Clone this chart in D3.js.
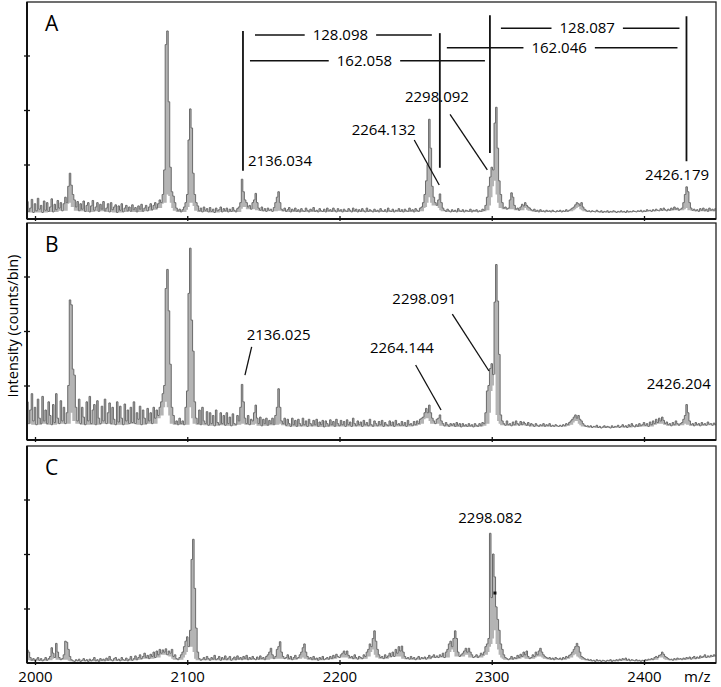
<!DOCTYPE html>
<html>
<head>
<meta charset="utf-8">
<script src="https://cdn.jsdelivr.net/npm/d3@7"></script>
<style>
body { margin: 0; background: #fff; }
svg { display: block; font-family: "Open Sans", sans-serif; }
</style>
</head>
<body>
<div id="viz"></div>
<script>
// counts per 1 m/z bin, first bin centred on m/z 1995
var binStart = 1995;

var countsA = [
  0.32,0.14,0.2,0.36,0.12,0.28,0.15,0.38,0.18,0.25,
  0.12,0.33,0.16,0.3,0.14,0.22,0.37,0.13,0.27,0.17,
  0.34,0.2,0.3,0.15,0.28,0.4,0.3,0.6,0.84,0.62,
  0.45,0.35,0.22,0.32,0.15,0.28,0.18,0.33,0.14,0.25,
  0.3,0.13,0.24,0.34,0.16,0.22,0.3,0.14,0.27,0.18,
  0.32,0.15,0.2,0.28,0.13,0.3,0.17,0.22,0.26,0.12,
  0.24,0.16,0.28,0.13,0.2,0.25,0.15,0.22,0.14,0.26,
  0.17,0.21,0.13,0.24,0.18,0.27,0.14,0.2,0.25,0.15,
  0.22,0.28,0.17,0.25,0.3,0.2,0.28,0.35,0.3,0.45,
  0.9,3.2,3.45,2.15,0.95,0.5,0.42,0.3,0.2,0.15,
  0.18,0.13,0.17,0.22,0.3,0.45,1.45,2.02,1.67,0.84,
  0.45,0.3,0.24,0.15,0.2,0.13,0.22,0.16,0.19,0.13,
  0.21,0.14,0.18,0.12,0.2,0.15,0.17,0.22,0.13,0.19,
  0.15,0.2,0.13,0.18,0.14,0.21,0.16,0.13,0.19,0.22,
  0.3,0.73,0.5,0.35,0.3,0.22,0.25,0.18,0.3,0.35,
  0.47,0.3,0.2,0.16,0.22,0.15,0.19,0.14,0.2,0.16,
  0.18,0.14,0.21,0.3,0.4,0.5,0.3,0.18,0.15,0.2,
  0.14,0.17,0.21,0.13,0.18,0.15,0.2,0.14,0.17,0.13,
  0.19,0.15,0.14,0.2,0.16,0.13,0.18,0.15,0.21,0.14,
  0.16,0.13,0.19,0.15,0.14,0.18,0.13,0.2,0.15,0.17,
  0.14,0.2,0.16,0.13,0.19,0.15,0.17,0.13,0.18,0.15,
  0.14,0.19,0.16,0.13,0.2,0.15,0.18,0.13,0.17,0.14,
  0.19,0.15,0.13,0.2,0.14,0.17,0.15,0.13,0.18,0.14,
  0.16,0.13,0.19,0.15,0.14,0.17,0.13,0.2,0.15,0.14,
  0.18,0.13,0.16,0.15,0.19,0.14,0.17,0.13,0.18,0.15,
  0.14,0.2,0.15,0.17,0.13,0.19,0.16,0.14,0.2,0.22,
  0.3,0.45,0.7,1.0,1.83,1.3,0.6,0.4,0.3,0.25,
  0.35,0.46,0.3,0.2,0.16,0.14,0.18,0.15,0.13,0.17,
  0.14,0.16,0.13,0.19,0.15,0.14,0.17,0.13,0.16,0.15,
  0.14,0.18,0.13,0.16,0.15,0.17,0.13,0.15,0.14,0.18,
  0.16,0.25,0.4,0.6,0.77,0.95,0.9,1.76,2.05,1.3,
  0.7,0.45,0.3,0.2,0.22,0.18,0.2,0.35,0.48,0.4,
  0.25,0.18,0.2,0.16,0.22,0.27,0.24,0.3,0.25,0.22,
  0.2,0.17,0.15,0.18,0.14,0.16,0.13,0.17,0.14,0.15,
  0.13,0.16,0.14,0.15,0.13,0.16,0.14,0.13,0.15,0.14,
  0.16,0.13,0.15,0.14,0.17,0.14,0.16,0.18,0.2,0.22,
  0.26,0.3,0.28,0.25,0.3,0.22,0.18,0.16,0.14,0.15,
  0.13,0.15,0.14,0.13,0.16,0.14,0.13,0.15,0.12,0.14,
  0.13,0.15,0.12,0.14,0.13,0.15,0.14,0.12,0.14,0.13,
  0.15,0.13,0.14,0.12,0.15,0.13,0.14,0.13,0.15,0.14,
  0.13,0.15,0.14,0.16,0.13,0.15,0.14,0.17,0.15,0.16,
  0.14,0.17,0.15,0.18,0.16,0.15,0.19,0.16,0.2,0.17,
  0.15,0.18,0.16,0.2,0.17,0.22,0.18,0.2,0.16,0.18,
  0.2,0.3,0.45,0.59,0.5,0.3,0.2,0.16,0.18,0.15,
  0.17,0.14,0.19,0.16,0.2,0.15,0.18,0.14,0.2,0.16,
  0.18,0.15,0.19
];

var countsB = [
  0.7,0.3,0.55,0.85,0.35,0.6,0.28,0.75,0.4,0.3,
  0.8,0.35,0.55,0.3,0.7,0.45,0.28,0.65,0.32,0.85,
  0.4,0.3,0.72,0.35,0.6,0.3,0.5,1.0,2.57,2.48,
  1.3,1.19,0.6,0.35,0.75,0.3,0.6,0.42,0.28,0.7,
  0.35,0.8,0.3,0.55,0.65,0.28,0.72,0.4,0.3,0.62,
  0.35,0.75,0.3,0.5,0.68,0.3,0.6,0.38,0.28,0.7,
  0.33,0.62,0.4,0.28,0.66,0.35,0.55,0.3,0.6,0.32,
  0.7,0.3,0.5,0.38,0.62,0.28,0.55,0.4,0.3,0.58,
  0.35,0.5,0.3,0.6,0.4,0.55,0.45,0.6,0.7,0.85,
  1.0,2.78,3.13,2.37,1.39,0.6,0.45,0.3,0.35,0.28,
  0.4,0.3,0.35,0.28,0.6,0.9,2.69,3.52,2.2,1.63,
  0.7,0.4,0.3,0.55,0.28,0.6,0.35,0.3,0.52,0.27,
  0.5,0.3,0.45,0.26,0.55,0.32,0.28,0.5,0.3,0.45,
  0.27,0.5,0.3,0.42,0.26,0.48,0.3,0.28,0.45,0.35,
  0.6,1.02,0.7,0.4,0.3,0.45,0.28,0.38,0.35,0.5,
  0.64,0.4,0.3,0.42,0.26,0.38,0.3,0.4,0.27,0.36,
  0.3,0.4,0.28,0.45,0.6,0.94,0.6,0.35,0.3,0.4,
  0.27,0.38,0.3,0.25,0.4,0.28,0.36,0.25,0.38,0.3,
  0.26,0.4,0.28,0.35,0.25,0.38,0.3,0.26,0.36,0.28,
  0.38,0.25,0.33,0.28,0.36,0.24,0.35,0.3,0.26,0.37,
  0.28,0.34,0.25,0.38,0.3,0.26,0.36,0.28,0.34,0.25,
  0.37,0.28,0.33,0.25,0.4,0.3,0.26,0.35,0.28,0.33,
  0.25,0.36,0.28,0.32,0.26,0.38,0.28,0.25,0.35,0.3,
  0.26,0.34,0.28,0.36,0.25,0.32,0.28,0.26,0.35,0.27,
  0.33,0.25,0.36,0.28,0.3,0.26,0.34,0.27,0.32,0.25,
  0.36,0.28,0.3,0.26,0.34,0.28,0.35,0.3,0.38,0.4,
  0.42,0.5,0.58,0.5,0.64,0.5,0.4,0.35,0.3,0.38,
  0.4,0.46,0.35,0.3,0.26,0.32,0.28,0.25,0.3,0.27,
  0.3,0.25,0.32,0.27,0.3,0.24,0.3,0.26,0.28,0.25,
  0.3,0.26,0.28,0.24,0.3,0.27,0.25,0.3,0.26,0.32,
  0.3,0.5,0.9,1.0,1.31,1.4,1.2,2.53,3.22,2.55,
  1.57,0.46,0.35,0.3,0.27,0.35,0.28,0.3,0.26,0.33,
  0.28,0.35,0.3,0.27,0.34,0.28,0.33,0.3,0.27,0.32,
  0.26,0.3,0.28,0.25,0.3,0.27,0.25,0.28,0.26,0.3,
  0.25,0.28,0.26,0.3,0.25,0.27,0.25,0.28,0.26,0.25,
  0.27,0.25,0.28,0.26,0.3,0.28,0.32,0.35,0.38,0.42,
  0.46,0.4,0.45,0.38,0.35,0.3,0.27,0.25,0.26,0.24,
  0.26,0.23,0.25,0.24,0.27,0.23,0.25,0.22,0.24,0.26,
  0.23,0.25,0.24,0.22,0.26,0.23,0.25,0.24,0.27,0.23,
  0.25,0.28,0.24,0.26,0.23,0.28,0.25,0.3,0.26,0.24,
  0.28,0.25,0.3,0.26,0.28,0.32,0.27,0.3,0.25,0.33,
  0.28,0.35,0.3,0.38,0.32,0.4,0.35,0.42,0.36,0.3,
  0.33,0.28,0.3,0.26,0.32,0.28,0.35,0.3,0.27,0.3,
  0.32,0.38,0.45,0.65,0.5,0.35,0.28,0.3,0.26,0.32,
  0.28,0.3,0.26,0.32,0.28,0.3,0.27,0.33,0.29,0.3,
  0.27,0.31,0.28
];

var countsC = [
  0.24,0.2,0.1,0.05,0.08,0.04,0.07,0.1,0.05,0.08,
  0.04,0.06,0.1,0.05,0.08,0.12,0.28,0.18,0.1,0.36,
  0.2,0.1,0.06,0.08,0.15,0.4,0.38,0.25,0.12,0.06,
  0.04,0.03,0.06,0.04,0.07,0.03,0.05,0.08,0.04,0.06,
  0.03,0.07,0.04,0.06,0.1,0.04,0.06,0.03,0.08,0.05,
  0.07,0.04,0.09,0.05,0.12,0.06,0.04,0.08,0.1,0.05,
  0.07,0.04,0.1,0.06,0.05,0.09,0.04,0.07,0.12,0.05,
  0.08,0.13,0.06,0.1,0.15,0.08,0.12,0.18,0.1,0.14,
  0.08,0.16,0.12,0.2,0.1,0.22,0.15,0.25,0.18,0.24,
  0.2,0.26,0.15,0.22,0.18,0.25,0.12,0.15,0.08,0.06,
  0.1,0.15,0.2,0.3,0.4,0.48,0.3,0.6,1.9,2.27,
  1.37,0.64,0.2,0.08,0.05,0.07,0.1,0.06,0.12,0.08,
  0.05,0.1,0.07,0.14,0.06,0.08,0.12,0.05,0.1,0.07,
  0.13,0.06,0.09,0.12,0.05,0.08,0.11,0.06,0.13,0.07,
  0.1,0.06,0.12,0.08,0.14,0.06,0.1,0.07,0.12,0.08,
  0.06,0.11,0.07,0.13,0.08,0.1,0.06,0.12,0.15,0.2,
  0.27,0.15,0.08,0.12,0.25,0.3,0.39,0.2,0.12,0.08,
  0.1,0.15,0.08,0.12,0.06,0.1,0.14,0.08,0.1,0.15,
  0.2,0.28,0.35,0.2,0.12,0.08,0.1,0.06,0.12,0.07,
  0.09,0.05,0.1,0.07,0.12,0.06,0.08,0.1,0.07,0.12,
  0.08,0.14,0.1,0.16,0.12,0.1,0.15,0.18,0.22,0.16,
  0.22,0.14,0.1,0.12,0.08,0.15,0.1,0.07,0.12,0.1,
  0.08,0.15,0.12,0.2,0.25,0.35,0.3,0.45,0.59,0.4,
  0.25,0.15,0.1,0.12,0.08,0.15,0.1,0.13,0.18,0.12,
  0.2,0.12,0.25,0.18,0.3,0.22,0.31,0.2,0.12,0.08,
  0.1,0.07,0.12,0.08,0.1,0.06,0.09,0.12,0.07,0.1,
  0.08,0.11,0.07,0.1,0.14,0.09,0.12,0.15,0.1,0.13,
  0.1,0.15,0.12,0.18,0.1,0.2,0.25,0.35,0.4,0.3,
  0.45,0.59,0.45,0.2,0.12,0.15,0.18,0.22,0.27,0.2,
  0.27,0.2,0.15,0.1,0.12,0.15,0.1,0.13,0.18,0.15,
  0.2,0.3,0.35,0.45,2.38,1.2,2.0,1.58,1.03,0.8,
  0.6,0.35,0.25,0.15,0.1,0.08,0.06,0.08,0.12,0.07,
  0.1,0.08,0.14,0.1,0.16,0.12,0.2,0.15,0.22,0.12,
  0.08,0.1,0.15,0.12,0.2,0.15,0.22,0.27,0.2,0.15,
  0.12,0.1,0.08,0.1,0.07,0.09,0.06,0.1,0.08,0.07,
  0.09,0.06,0.1,0.08,0.12,0.1,0.14,0.16,0.2,0.25,
  0.3,0.36,0.3,0.2,0.12,0.1,0.08,0.06,0.07,0.05,
  0.06,0.04,0.05,0.03,0.06,0.04,0.05,0.03,0.05,0.04,
  0.03,0.05,0.04,0.06,0.03,0.05,0.04,0.06,0.04,0.07,
  0.05,0.08,0.06,0.09,0.05,0.07,0.04,0.06,0.05,0.04,
  0.06,0.04,0.05,0.03,0.05,0.04,0.06,0.05,0.07,0.06,
  0.08,0.06,0.1,0.12,0.1,0.14,0.15,0.2,0.16,0.12,
  0.1,0.08,0.06,0.07,0.05,0.08,0.06,0.09,0.07,0.08,
  0.06,0.09,0.07,0.1,0.08,0.11,0.07,0.1,0.12,0.08,
  0.11,0.09,0.13,0.1,0.12,0.15,0.1,0.13,0.11,0.14,
  0.12,0.15,0.13
];

var xTicks = [2000, 2100, 2200, 2300, 2400];
var yTicks = [1, 2, 3];
var panelNames = ["A", "B", "C"];
var labelsA = ["2136.034", "2264.132", "2298.092", "2426.179"];
var diffsA = ["128.098", "162.058", "128.087", "162.046"];
var labelsB = ["2136.025", "2264.144", "2298.091", "2426.204"];
var labelsC = ["2298.082"];

var width = 721, height = 687;
var plotLeft = 27, plotRight = 716;
var panelTop = [2, 223, 446], panelH = 217;

var x = d3.scaleLinear().domain([2000, 2400]).range([35, 644]);

var svg = d3.select("#viz").append("svg")
  .attr("width", width)
  .attr("height", height);

function drawPanel(i, counts) {
  var top = panelTop[i], bottom = top + panelH;
  var y = d3.scaleLinear().domain([0, 4]).range([bottom, bottom - 218]);
  var g = svg.append("g");

  svg.append("clipPath").attr("id", "clip" + i)
    .append("rect")
    .attr("x", plotLeft).attr("y", top)
    .attr("width", plotRight - plotLeft).attr("height", panelH);

  // each bin with the lowest count around it, so peaks read as filled bands
  var bins = counts.map((v, k) => ({
    mz: binStart + k,
    v: v,
    lo: d3.min(counts.slice(Math.max(0, k - 3), k + 4))
  }));

  var area = d3.area()
    .x(d => x(d.mz))
    .y0(d => y(d.lo))
    .y1(d => y(d.v))
    .curve(d3.curveStep);

  var line = d3.line()
    .x(d => x(d.mz))
    .y(d => y(d.v))
    .curve(d3.curveStep);

  var plot = g.append("g").attr("clip-path", "url(#clip" + i + ")");

  plot.append("path")
    .datum(bins)
    .attr("fill", "#b4b4b4")
    .attr("d", area);

  plot.append("path")
    .datum(bins)
    .attr("fill", "none")
    .attr("stroke", "#6a6a6a")
    .attr("stroke-width", 1)
    .attr("d", line);

  // frame
  g.append("rect")
    .attr("x", plotLeft).attr("y", top)
    .attr("width", plotRight - plotLeft).attr("height", panelH)
    .attr("fill", "none").attr("stroke", "#222").attr("stroke-width", 1.3);
  g.append("line")
    .attr("x1", plotLeft).attr("x2", plotLeft)
    .attr("y1", top).attr("y2", bottom)
    .attr("stroke", "#111").attr("stroke-width", 2);
  g.append("line")
    .attr("x1", plotLeft).attr("x2", plotRight)
    .attr("y1", bottom).attr("y2", bottom)
    .attr("stroke", "#111").attr("stroke-width", 2);

  // y ticks, crossing the axis
  var ya = g.append("g")
    .attr("transform", "translate(" + plotLeft + ",0)")
    .call(d3.axisLeft(y).tickValues(yTicks).tickSize(3).tickFormat(""));
  ya.select(".domain").remove();
  ya.selectAll(".tick line").attr("x1", 3).attr("stroke", "#111").attr("stroke-width", 1.3);

  // x ticks
  var xa = g.append("g")
    .attr("transform", "translate(0," + bottom + ")")
    .call(d3.axisBottom(x).tickValues(xTicks).tickSize(2)
      .tickFormat(i == 2 ? d3.format("d") : ""));
  xa.select(".domain").remove();
  xa.selectAll(".tick line").attr("y1", -3).attr("stroke", "#111").attr("stroke-width", 1.3);
  xa.selectAll(".tick text")
    .attr("font-size", 15)
    .attr("font-weight", 500)
    .attr("font-family", "Open Sans, sans-serif")
    .attr("fill", "#000")
    .attr("dy", null)
    .attr("y", 19);

  g.append("text")
    .attr("x", 45).attr("y", top + 29)
    .attr("font-size", 21)
    .attr("font-weight", 500)
    .attr("fill", "#000")
    .text(panelNames[i]);

  return y;
}

var yA = drawPanel(0, countsA);
var yB = drawPanel(1, countsB);
var yC = drawPanel(2, countsC);

function label(y, text, mz, v) {
  svg.append("text")
    .attr("x", x(mz)).attr("y", y(v))
    .attr("font-size", 15)
    .attr("font-weight", 500)
    .attr("fill", "#000")
    .text(text);
}

function leader(y, m1, v1, m2, v2) {
  svg.append("line")
    .attr("x1", x(m1)).attr("y1", y(v1))
    .attr("x2", x(m2)).attr("y2", y(v2))
    .attr("stroke", "#111").attr("stroke-width", 1.3);
}

// panel A: marker lines and mass differences
var markA = [[2136.6, 0.886, 3.45], [2265.9, 0.94, 3.41], [2298.8, 1.21, 3.74], [2427.9, 1.06, 3.72]];
svg.append("g").selectAll("line")
  .data(markA)
  .join("line")
  .attr("x1", d => x(d[0])).attr("x2", d => x(d[0]))
  .attr("y1", d => yA(d[1])).attr("y2", d => yA(d[2]))
  .attr("stroke", "#111").attr("stroke-width", 1.8);

var dimsA = [
  {a: 0, b: 1, v: 3.376, pad: [12, 8]},
  {a: 0, b: 2, v: 2.905, pad: [7, 5]},
  {a: 2, b: 3, v: 3.5, pad: [11, 7]},
  {a: 1, b: 3, v: 3.14, pad: [7, 9]}
];
dimsA.forEach(function(d, k) {
  var x1 = x(markA[d.a][0]) + d.pad[0], x2 = x(markA[d.b][0]) - d.pad[1];
  var yy = yA(d.v), cx = (x1 + x2) / 2 - 3;
  var t = svg.append("text")
    .attr("x", cx).attr("y", yy + 5)
    .attr("text-anchor", "middle")
    .attr("font-size", 15)
    .attr("font-weight", 500)
    .attr("fill", "#000")
    .text(diffsA[k]);
  var half = t.node().getComputedTextLength() / 2 + 8;
  [[x1, cx - half], [cx + half, x2]].forEach(function(s) {
    svg.append("line")
      .attr("x1", s[0]).attr("x2", s[1])
      .attr("y1", yy).attr("y2", yy)
      .attr("stroke", "#111").attr("stroke-width", 1.5);
  });
});

label(yA, labelsA[0], 2139.9, 0.97);
label(yA, labelsA[1], 2208.0, 1.54);
label(yA, labelsA[2], 2243.0, 2.15);
label(yA, labelsA[3], 2400.7, 0.716);
leader(yA, 2249.1, 1.45, 2265.5, 0.624);
leader(yA, 2272.6, 1.92, 2297.1, 0.9);

label(yB, labelsB[0], 2139.0, 1.835);
label(yB, labelsB[1], 2220.0, 1.59);
label(yB, labelsB[2], 2234.7, 2.49);
label(yB, labelsB[3], 2401.8, 0.936);
leader(yB, 2142.3, 1.71, 2137.9, 1.19);
leader(yB, 2250.0, 1.376, 2266.7, 0.55);
leader(yB, 2274.1, 2.31, 2298.2, 1.266);

label(yC, labelsC[0], 2278.0, 2.574);
svg.append("rect")
  .attr("x", x(2302.1) - 1.5).attr("y", yC(1.284) - 1.5)
  .attr("width", 3).attr("height", 3)
  .attr("fill", "#111");

// axis titles
svg.append("text")
  .attr("transform", "translate(13,326) rotate(-90)")
  .attr("text-anchor", "middle")
  .attr("dy", "0.35em")
  .attr("font-size", 14.5)
  .attr("font-weight", 500)
  .attr("fill", "#000")
  .text("Intensity (counts/bin)");

svg.append("text")
  .attr("x", x(2435)).attr("y", 682)
  .attr("text-anchor", "middle")
  .attr("font-size", 15)
  .attr("font-weight", 500)
  .attr("fill", "#000")
  .text("m/z");
</script>
</body>
</html>
